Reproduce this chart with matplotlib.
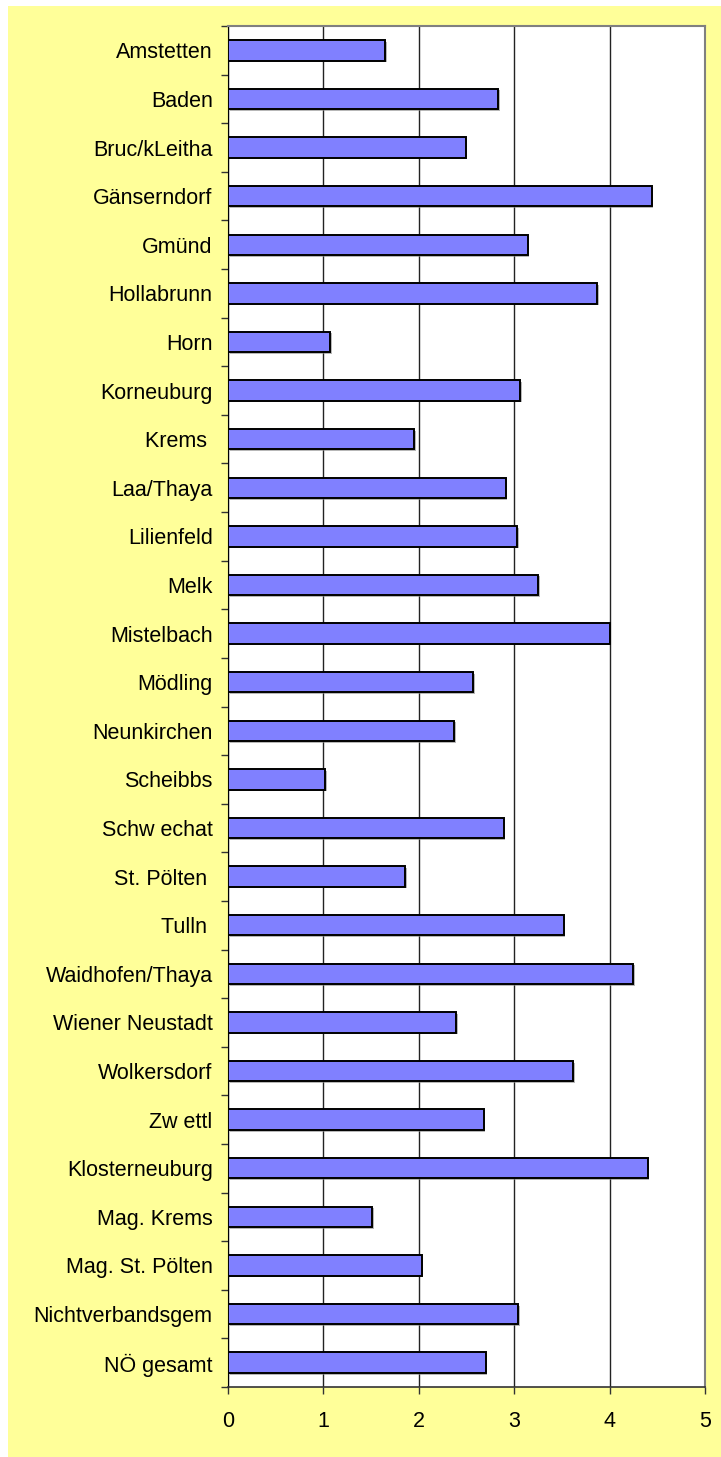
import numpy as np
import matplotlib
matplotlib.use('Agg')
import matplotlib.pyplot as plt
import matplotlib.patheffects as pe
from matplotlib.patches import Rectangle

# District names (top to bottom)
districts = ['Amstetten', 'Baden', 'Bruc/kLeitha', 'Gänserndorf', 'Gmünd',
             'Hollabrunn', 'Horn', 'Korneuburg', 'Krems ', 'Laa/Thaya',
             'Lilienfeld', 'Melk', 'Mistelbach', 'Mödling', 'Neunkirchen',
             'Scheibbs', 'Schw echat', 'St. Pölten ', 'Tulln ', 'Waidhofen/Thaya',
             'Wiener Neustadt', 'Wolkersdorf', 'Zw ettl', 'Klosterneuburg',
             'Mag. Krems', 'Mag. St. Pölten', 'Nichtverbandsgem', 'NÖ gesamt']
values = [1.65, 2.83, 2.49, 4.44, 3.14,
          3.87, 1.07, 3.06, 1.95, 2.91,
          3.03, 3.25, 4.00, 2.57, 2.37,
          1.02, 2.89, 1.86, 3.52, 4.25,
          2.39, 3.62, 2.68, 4.40,
          1.51, 2.03, 3.04, 2.70]
x_ticks = [0, 1, 2, 3, 4, 5]

plt.rcParams['font.family'] = ['Liberation Sans', 'DejaVu Sans']

W, H = 721, 1457
fig = plt.figure(figsize=(W / 100, H / 100), dpi=100, facecolor='white')

# yellow chart area, behind the axes
bg = Rectangle((8 / W, 0), 1 - 8 / W, 1 - 6 / H, transform=fig.transFigure,
               facecolor='#FFFF99', edgecolor='none', zorder=-10)
fig.add_artist(bg)

ax = fig.add_axes([228 / W, (H - 1387) / H, 477 / W, 1361 / H])
ax.set_zorder(1)
ax.set_facecolor('white')

y = np.arange(len(districts))
bars = ax.barh(y, values, height=0.42, color='#8080FF', edgecolor='black',
               linewidth=1.4, zorder=3)
for b in bars:
    b.set_path_effects([pe.SimplePatchShadow(offset=(1.2, -1.2), shadow_rgbFace='#888888', alpha=0.6),
                        pe.Normal()])

ax.set_xlim(0, 5)
ax.set_ylim(len(districts) - 0.5, -0.5)
ax.set_xticks(x_ticks)
ax.set_xticklabels([str(t) for t in x_ticks], fontsize=15.5)
ax.set_yticks(y)
ax.set_yticklabels(districts, fontsize=15.5)
ax.set_yticks(np.arange(len(districts) + 1) - 0.5, minor=True)

ax.tick_params(axis='y', which='major', length=0, pad=11)
ax.tick_params(axis='y', which='minor', length=5, width=1, color='#333333', direction='out')
ax.tick_params(axis='x', which='major', length=5, width=1, color='#333333', pad=12)

ax.grid(axis='x', color='#222222', linewidth=1, zorder=1)
ax.set_axisbelow(True)

for side in ['top', 'right']:
    ax.spines[side].set_color('#808080')
    ax.spines[side].set_linewidth(1.5)
ax.spines['left'].set_color('black')
ax.spines['bottom'].set_color('#333333')
ax.spines['bottom'].set_linewidth(1.2)

plt.savefig('out.png', dpi=100, facecolor=fig.get_facecolor())
